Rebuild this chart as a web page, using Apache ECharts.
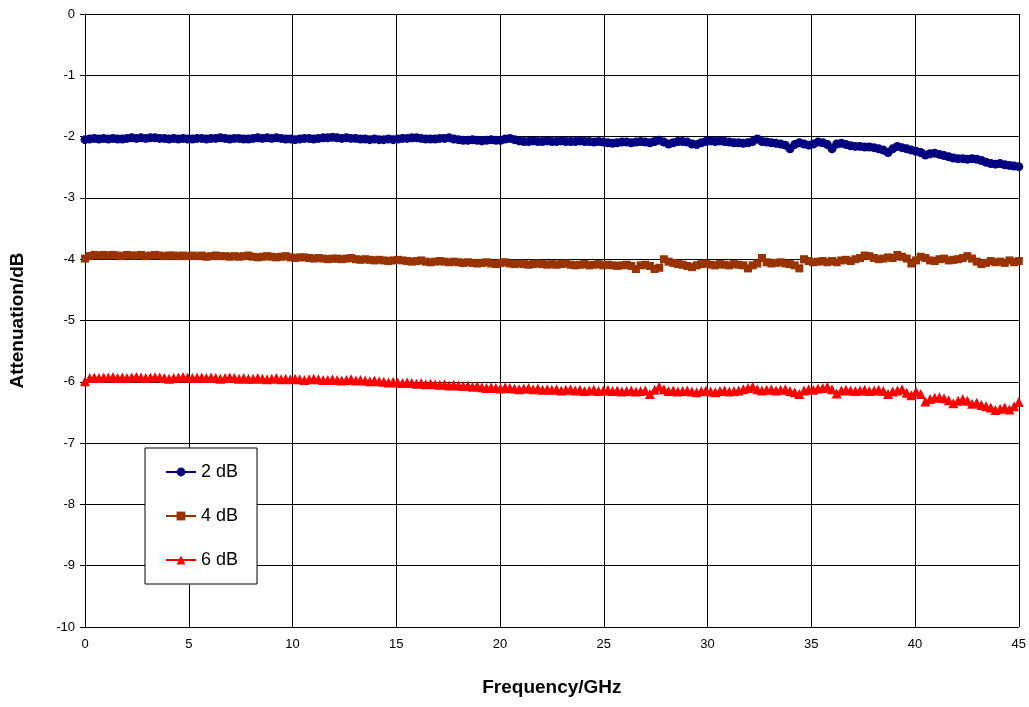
<!DOCTYPE html>
<html lang="en">
<head>
<meta charset="UTF-8">
<title>Attenuation vs Frequency</title>
<script src="https://cdn.jsdelivr.net/npm/echarts@6/dist/echarts.min.js"></script>
<style>
  html, body { margin: 0; padding: 0; background: #fff; }
</style>
</head>
<body>
<div id="main" style="width:1029px;height:707px;"></div>
<script type="text/javascript">

// sweep: 201 points, 0 to 45 GHz
const freqStart = 0;
const freqStep = 0.225;

const seriesNames = ['2 dB', '4 dB', '6 dB'];

// 2 dB pad (values in dB, 20 per row = 4.5 GHz)
const att2 = [
  -2.05,-2.04,-2.03,-2.04,-2.03,-2.04,-2.03,-2.04,-2.04,-2.03,-2.02,-2.03,-2.02,-2.03,-2.02,-2.02,-2.03,-2.03,-2.04,-2.03,
  -2.04,-2.03,-2.04,-2.04,-2.03,-2.03,-2.04,-2.03,-2.03,-2.02,-2.03,-2.04,-2.03,-2.03,-2.04,-2.04,-2.03,-2.02,-2.03,-2.02,
  -2.03,-2.02,-2.03,-2.04,-2.04,-2.05,-2.04,-2.03,-2.03,-2.04,-2.03,-2.02,-2.02,-2.01,-2.02,-2.03,-2.02,-2.03,-2.03,-2.04,
  -2.04,-2.05,-2.04,-2.05,-2.05,-2.04,-2.05,-2.04,-2.03,-2.03,-2.02,-2.02,-2.03,-2.04,-2.04,-2.04,-2.03,-2.03,-2.02,-2.04,
  -2.05,-2.06,-2.06,-2.05,-2.06,-2.07,-2.06,-2.05,-2.06,-2.06,-2.04,-2.03,-2.05,-2.07,-2.08,-2.08,-2.07,-2.08,-2.08,-2.07,
  -2.08,-2.08,-2.07,-2.08,-2.08,-2.08,-2.07,-2.08,-2.08,-2.09,-2.08,-2.09,-2.10,-2.11,-2.10,-2.09,-2.09,-2.10,-2.09,-2.08,
  -2.09,-2.10,-2.08,-2.06,-2.09,-2.12,-2.10,-2.08,-2.08,-2.09,-2.12,-2.13,-2.10,-2.08,-2.07,-2.08,-2.07,-2.08,-2.09,-2.10,
  -2.10,-2.11,-2.10,-2.08,-2.04,-2.08,-2.09,-2.10,-2.11,-2.12,-2.14,-2.20,-2.13,-2.10,-2.12,-2.14,-2.12,-2.09,-2.10,-2.13,
  -2.20,-2.12,-2.11,-2.13,-2.15,-2.16,-2.16,-2.17,-2.17,-2.18,-2.20,-2.22,-2.26,-2.20,-2.16,-2.18,-2.20,-2.22,-2.24,-2.26,
  -2.30,-2.28,-2.27,-2.29,-2.31,-2.33,-2.35,-2.36,-2.36,-2.37,-2.36,-2.37,-2.39,-2.42,-2.44,-2.45,-2.44,-2.46,-2.47,-2.48,
  -2.49
];

// 4 dB pad
const att4 = [
  -3.99,-3.95,-3.93,-3.94,-3.93,-3.94,-3.93,-3.94,-3.95,-3.93,-3.94,-3.94,-3.93,-3.95,-3.94,-3.93,-3.94,-3.95,-3.94,-3.94,
  -3.95,-3.94,-3.95,-3.94,-3.95,-3.94,-3.96,-3.95,-3.94,-3.95,-3.95,-3.96,-3.95,-3.96,-3.95,-3.94,-3.96,-3.97,-3.96,-3.95,
  -3.96,-3.97,-3.96,-3.95,-3.97,-3.98,-3.97,-3.97,-3.98,-3.99,-3.98,-3.99,-4.00,-3.99,-3.99,-4.00,-3.99,-3.98,-4.00,-4.01,
  -4.00,-4.01,-4.02,-4.01,-4.02,-4.03,-4.02,-4.01,-4.02,-4.03,-4.04,-4.03,-4.02,-4.04,-4.05,-4.04,-4.03,-4.04,-4.05,-4.04,
  -4.05,-4.06,-4.05,-4.06,-4.07,-4.06,-4.05,-4.07,-4.08,-4.06,-4.05,-4.07,-4.08,-4.07,-4.08,-4.09,-4.08,-4.07,-4.08,-4.09,
  -4.08,-4.09,-4.08,-4.07,-4.09,-4.10,-4.09,-4.08,-4.10,-4.09,-4.08,-4.10,-4.09,-4.10,-4.11,-4.10,-4.09,-4.11,-4.16,-4.10,
  -4.09,-4.11,-4.16,-4.14,-4.00,-4.04,-4.06,-4.08,-4.09,-4.11,-4.13,-4.10,-4.08,-4.07,-4.09,-4.10,-4.08,-4.09,-4.10,-4.08,
  -4.09,-4.10,-4.15,-4.10,-4.07,-3.98,-4.05,-4.07,-4.06,-4.05,-4.07,-4.08,-4.10,-4.15,-4.00,-4.03,-4.05,-4.04,-4.03,-4.05,
  -4.03,-4.05,-4.02,-4.01,-4.03,-4.00,-3.98,-3.94,-3.95,-3.98,-4.00,-3.99,-3.97,-3.98,-3.93,-3.96,-3.99,-4.07,-4.02,-3.96,
  -3.98,-4.02,-4.03,-4.00,-3.99,-4.02,-4.01,-4.00,-3.98,-3.95,-3.99,-4.04,-4.08,-4.06,-4.03,-4.05,-4.04,-4.06,-4.02,-4.05,
  -4.03
];

// 6 dB pad
const att6 = [
  -5.99,-5.94,-5.93,-5.94,-5.93,-5.93,-5.92,-5.94,-5.93,-5.94,-5.93,-5.92,-5.93,-5.94,-5.93,-5.92,-5.93,-5.94,-5.95,-5.94,
  -5.93,-5.92,-5.93,-5.94,-5.93,-5.93,-5.94,-5.93,-5.94,-5.95,-5.94,-5.93,-5.94,-5.95,-5.94,-5.95,-5.95,-5.94,-5.95,-5.96,
  -5.95,-5.94,-5.96,-5.95,-5.96,-5.95,-5.96,-5.97,-5.96,-5.95,-5.96,-5.97,-5.97,-5.96,-5.97,-5.98,-5.97,-5.96,-5.98,-5.97,
  -5.98,-5.99,-5.98,-5.99,-6.00,-6.01,-6.00,-6.01,-6.02,-6.01,-6.02,-6.03,-6.02,-6.04,-6.03,-6.04,-6.05,-6.04,-6.06,-6.05,
  -6.06,-6.07,-6.06,-6.08,-6.07,-6.09,-6.10,-6.09,-6.10,-6.11,-6.09,-6.10,-6.11,-6.12,-6.11,-6.10,-6.12,-6.11,-6.13,-6.12,
  -6.13,-6.12,-6.14,-6.13,-6.12,-6.14,-6.13,-6.15,-6.14,-6.13,-6.15,-6.14,-6.13,-6.15,-6.14,-6.16,-6.15,-6.14,-6.16,-6.15,
  -6.14,-6.20,-6.13,-6.08,-6.12,-6.15,-6.14,-6.16,-6.15,-6.14,-6.16,-6.17,-6.15,-6.14,-6.16,-6.17,-6.15,-6.14,-6.16,-6.15,
  -6.14,-6.12,-6.10,-6.08,-6.12,-6.14,-6.13,-6.12,-6.14,-6.13,-6.12,-6.15,-6.17,-6.20,-6.14,-6.12,-6.13,-6.11,-6.10,-6.08,
  -6.12,-6.19,-6.14,-6.13,-6.14,-6.15,-6.14,-6.13,-6.15,-6.14,-6.13,-6.15,-6.20,-6.16,-6.14,-6.12,-6.18,-6.22,-6.16,-6.20,
  -6.32,-6.28,-6.26,-6.25,-6.27,-6.30,-6.35,-6.31,-6.28,-6.31,-6.36,-6.34,-6.38,-6.40,-6.42,-6.46,-6.44,-6.42,-6.45,-6.40,
  -6.33
];

function toPairs(values) {
  return values.map((v, i) => [+(freqStart + i * freqStep).toFixed(3), v]);
}

var myChart = echarts.init(document.getElementById('main'));

var font = '"Liberation Sans", Arial, sans-serif';

function lineSeries(name, values, color, symbol, size) {
  return {
    name: name,
    type: 'line',
    data: toPairs(values),
    symbol: symbol,
    symbolSize: size,
    showAllSymbol: true,
    animation: false,
    lineStyle: { color: color, width: 1 },
    itemStyle: { color: color, borderWidth: 0 },
    emphasis: { disabled: true }
  };
}

var option = {
  backgroundColor: '#fff',
  animation: false,
  grid: { left: 85, right: 10, top: 14, bottom: 80, containLabel: false },
  legend: {
    orient: 'vertical',
    left: 145,
    top: 448,
    data: seriesNames,
    itemWidth: 30,
    itemHeight: 11,
    itemGap: 26,
    padding: [15, 19, 15, 20],
    backgroundColor: '#fff',
    borderColor: '#000',
    borderWidth: 1,
    borderRadius: 0,
    textStyle: { fontFamily: font, fontSize: 18, color: '#000' }
  },
  xAxis: {
    type: 'value',
    min: 0,
    max: 45,
    interval: 5,
    name: 'Frequency/GHz',
    nameLocation: 'middle',
    nameGap: 51,
    nameTextStyle: { fontFamily: font, fontSize: 19, fontWeight: 'bold', color: '#000' },
    axisLine: { show: true, lineStyle: { color: '#000', width: 1 } },
    axisTick: { show: true, length: 5, lineStyle: { color: '#000' } },
    axisLabel: { fontFamily: font, fontSize: 13, color: '#000', margin: 11 },
    splitLine: { show: true, lineStyle: { color: '#000', width: 1 } }
  },
  yAxis: {
    type: 'value',
    min: -10,
    max: 0,
    interval: 1,
    name: 'Attenuation/dB',
    nameLocation: 'middle',
    nameGap: 58,
    nameTextStyle: { fontFamily: font, fontSize: 19, fontWeight: 'bold', color: '#000' },
    axisLine: { show: true, onZero: false, lineStyle: { color: '#000', width: 1 } },
    axisTick: { show: true, length: 5, lineStyle: { color: '#000' } },
    axisLabel: { fontFamily: font, fontSize: 13, color: '#000', margin: 10 },
    splitLine: { show: true, lineStyle: { color: '#000', width: 1 } }
  },
  series: [
    lineSeries(seriesNames[0], att2, '#000080', 'circle', 9),
    lineSeries(seriesNames[1], att4, '#993300', 'rect', 8),
    lineSeries(seriesNames[2], att6, '#ff0000', 'triangle', 10)
  ]
};

myChart.setOption(option);

</script>
</body>
</html>
